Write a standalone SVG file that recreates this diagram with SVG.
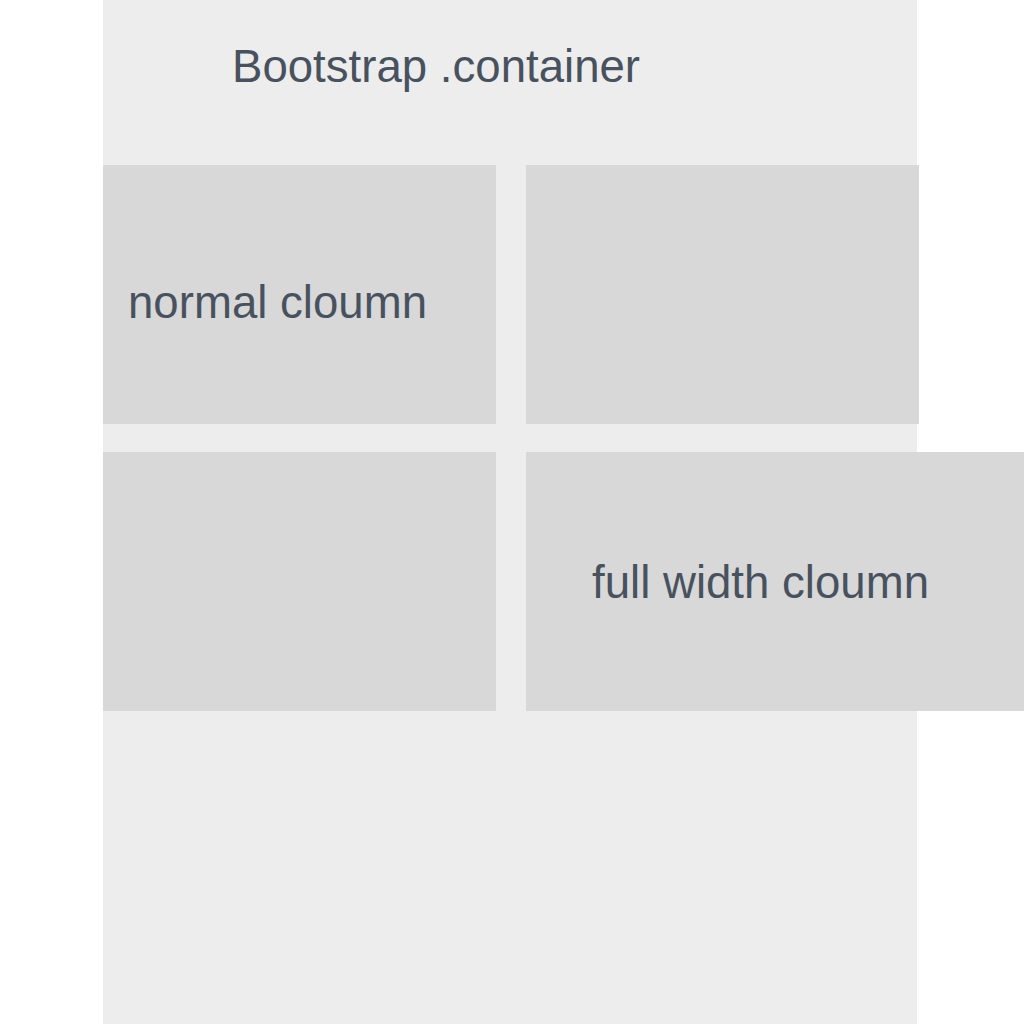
<svg xmlns="http://www.w3.org/2000/svg" width="1024" height="1024" viewBox="0 0 1024 1024">
<style>
.col{fill:#d8d8d8}
.lbl{font-family:"Liberation Sans",Arial,sans-serif;font-size:45.6px;fill:#48525e}
</style>
<rect width="1024" height="1024" fill="#ffffff"/>
<g id="container">
<rect x="103" y="0" width="814" height="1024" fill="#ededed"/>
<text class="lbl" x="232" y="82">Bootstrap .container</text>
</g>
<g id="col1">
<rect class="col" x="103" y="165" width="393" height="259"/>
<text class="lbl" x="128" y="318">normal cloumn</text>
</g>
<g id="col2">
<rect class="col" x="526" y="165" width="393" height="259"/>
</g>
<g id="col3">
<rect class="col" x="103" y="452" width="393" height="259"/>
</g>
<g id="col4">
<rect class="col" x="526" y="452" width="498" height="259"/>
<text class="lbl" x="592" y="598">full width cloumn</text>
</g>
<g id="connectors"/>
</svg>
